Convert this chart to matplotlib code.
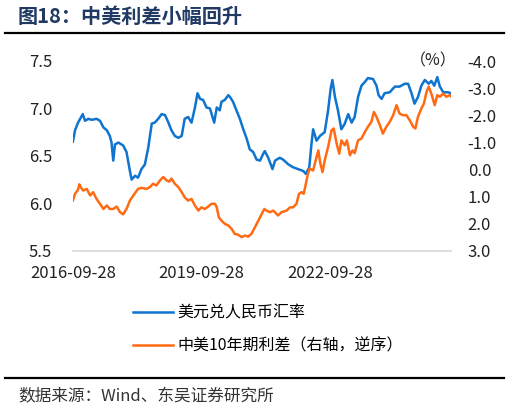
import matplotlib
matplotlib.use("Agg")
import matplotlib.pyplot as plt
import pandas as pd

plt.rcParams['font.family'] = ['Noto Sans CJK SC', 'DejaVu Sans']

# --- data (decimal year, value) ---
# USD/CNY, left axis
fx_t = [2016.74, 2016.79, 2016.86, 2016.97,
        2017.02, 2017.10, 2017.18, 2017.29, 2017.37, 2017.45, 2017.53, 2017.60, 2017.64, 2017.68, 2017.72, 2017.80, 2017.91, 2017.99,
        2018.07, 2018.11, 2018.19, 2018.26, 2018.34, 2018.42, 2018.50, 2018.58, 2018.65, 2018.73, 2018.81, 2018.89, 2018.97,
        2019.04, 2019.12, 2019.20, 2019.28, 2019.35, 2019.43, 2019.51, 2019.59, 2019.65, 2019.71, 2019.78, 2019.86, 2019.94, 2019.98,
        2020.04, 2020.10, 2020.17, 2020.21, 2020.29, 2020.37, 2020.41, 2020.48, 2020.56, 2020.64, 2020.72, 2020.80, 2020.87, 2020.95,
        2021.03, 2021.11, 2021.18, 2021.22, 2021.30, 2021.40, 2021.46, 2021.57, 2021.65, 2021.77, 2021.88,
        2022.00, 2022.12, 2022.18, 2022.26, 2022.31, 2022.35, 2022.43, 2022.51, 2022.62, 2022.70, 2022.76, 2022.80, 2022.86, 2022.93,
        2023.01, 2023.09, 2023.17, 2023.25, 2023.32, 2023.40, 2023.48, 2023.56, 2023.63, 2023.75, 2023.83, 2023.88, 2023.95,
        2024.02, 2024.14, 2024.26, 2024.37, 2024.49, 2024.57, 2024.65, 2024.72, 2024.80, 2024.88, 2024.96,
        2025.05, 2025.11, 2025.18, 2025.25, 2025.31, 2025.39, 2025.50, 2025.57]
fx_v = [6.65, 6.77, 6.85, 6.94,
        6.87, 6.89, 6.88, 6.89, 6.87, 6.80, 6.77, 6.71, 6.64, 6.45, 6.62, 6.64, 6.61, 6.54,
        6.34, 6.25, 6.29, 6.27, 6.36, 6.41, 6.59, 6.84, 6.85, 6.89, 6.94, 6.93, 6.85,
        6.77, 6.71, 6.69, 6.71, 6.89, 6.91, 6.85, 7.01, 7.16, 7.10, 7.09, 7.01, 7.00, 6.94,
        6.85, 7.01, 6.98, 7.07, 7.09, 7.14, 7.12, 7.07, 6.98, 6.89, 6.78, 6.68, 6.57, 6.54,
        6.46, 6.45, 6.52, 6.55, 6.48, 6.36, 6.45, 6.48, 6.46, 6.41, 6.38,
        6.36, 6.34, 6.31, 6.38, 6.62, 6.78, 6.66, 6.71, 6.75, 6.98, 7.21, 7.30, 7.12, 6.98,
        6.78, 6.84, 6.94, 6.85, 6.91, 7.12, 7.24, 7.28, 7.32, 7.31, 7.24, 7.14, 7.10,
        7.16, 7.17, 7.23, 7.23, 7.26, 7.26, 7.16, 7.05, 7.12, 7.24, 7.30,
        7.26, 7.29, 7.24, 7.33, 7.23, 7.17, 7.17, 7.16]

# China-US 10y spread (%), right axis, inverted
sp_t = [2016.74, 2016.79, 2016.86, 2016.89, 2016.92, 2016.98,
        2017.06, 2017.14, 2017.21, 2017.29, 2017.37, 2017.45, 2017.53, 2017.60, 2017.68, 2017.76, 2017.84, 2017.91, 2017.99,
        2018.07, 2018.15, 2018.26, 2018.34, 2018.46, 2018.54, 2018.61, 2018.69, 2018.77, 2018.85, 2018.93, 2018.99,
        2019.04, 2019.12, 2019.20, 2019.28, 2019.35, 2019.43, 2019.51, 2019.59, 2019.67, 2019.74, 2019.82, 2019.90, 2019.98,
        2020.06, 2020.10, 2020.15, 2020.21, 2020.29, 2020.37, 2020.45, 2020.52, 2020.60, 2020.68, 2020.76, 2020.83, 2020.91, 2020.99,
        2021.07, 2021.15, 2021.21, 2021.26, 2021.34, 2021.42, 2021.53, 2021.61, 2021.73, 2021.81, 2021.88, 2021.96,
        2022.02, 2022.08, 2022.13, 2022.18, 2022.23, 2022.27, 2022.35, 2022.41, 2022.47, 2022.52, 2022.57, 2022.62, 2022.70, 2022.78, 2022.83, 2022.90, 2022.96,
        2023.01, 2023.09, 2023.14, 2023.21, 2023.27, 2023.32, 2023.40, 2023.48, 2023.56, 2023.63, 2023.71, 2023.77, 2023.83, 2023.91, 2023.98,
        2024.06, 2024.14, 2024.22, 2024.30, 2024.37, 2024.45, 2024.53, 2024.61, 2024.69, 2024.74, 2024.80, 2024.88, 2024.94,
        2025.00, 2025.05, 2025.11, 2025.19, 2025.25, 2025.31, 2025.39, 2025.46, 2025.54, 2025.58]
sp_v = [1.15, 0.90, 0.75, 0.55, 0.65, 0.78,
        0.72, 0.96, 0.84, 1.09, 1.27, 1.46, 1.33, 1.46, 1.46, 1.37, 1.58, 1.66, 1.46,
        1.15, 0.96, 0.72, 0.68, 0.72, 0.65, 0.53, 0.59, 0.41, 0.28, 0.41, 0.45,
        0.34, 0.53, 0.65, 0.84, 1.03, 1.15, 1.09, 1.33, 1.52, 1.40, 1.46, 1.37, 1.27,
        1.27, 1.40, 1.77, 1.89, 2.01, 2.07, 2.20, 2.38, 2.41, 2.50, 2.44, 2.48, 2.38, 2.14,
        1.89, 1.64, 1.46, 1.52, 1.58, 1.52, 1.70, 1.58, 1.52, 1.40, 1.40, 1.27,
        0.90, 0.84, 0.90, 0.53, 0.16, -0.03, 0.04, -0.33, -0.70, -0.21, 0.10, -0.33, -0.83, -1.44, -1.51, -0.95, -0.58,
        -1.07, -0.89, -1.07, -0.52, -0.70, -0.60, -1.07, -1.14, -1.38, -1.57, -1.75, -2.12, -1.94, -1.63, -1.32,
        -1.57, -1.75, -2.00, -2.37, -2.06, -2.00, -2.00, -1.81, -1.57, -1.51, -1.94, -2.25, -2.43,
        -2.87, -3.05, -2.80, -2.37, -2.74, -2.68, -2.80, -2.68, -2.74, -2.68]

x_ticks = ['2016-09-28', '2019-09-28', '2022-09-28']
left_ticks = [5.5, 6.0, 6.5, 7.0, 7.5]
right_ticks = [-4, -3, -2, -1, 0, 1, 2, 3]

label_fx = '美元兑人民币汇率'
label_sp = '中美10年期利差（右轴，逆序）'
title = '图18：中美利差小幅回升'
source = '数据来源：Wind、东吴证券研究所'

BLUE = '#0F74CF'
ORANGE = '#FF6A13'


def to_date(y):
    yr = int(y)
    return pd.Timestamp(year=yr, month=1, day=1) + pd.Timedelta(days=(y - yr) * 365.25)


fx_d = [to_date(t) for t in fx_t]
sp_d = [to_date(t) for t in sp_t]

W, H = 510, 411
fig = plt.figure(figsize=(W / 100, H / 100), dpi=100)

# plot box in pixel terms
x0, x1, ytop, ybot = 73, 451, 61, 250.7
ax = fig.add_axes([x0 / W, 1 - ybot / H, (x1 - x0) / W, (ybot - ytop) / H])
ax2 = ax.twinx()

l1, = ax.plot(fx_d, fx_v, color=BLUE, lw=1.8, zorder=3)
l2, = ax2.plot(sp_d, sp_v, color=ORANGE, lw=1.8, zorder=2)

ax.set_xlim(pd.Timestamp(x_ticks[0]), fx_d[-1])
ax.set_ylim(5.5, 7.5)
ax2.set_ylim(3, -4)

ax.set_xticks([pd.Timestamp(t) for t in x_ticks])
ax.set_xticklabels(x_ticks)
ax.set_yticks(left_ticks)
ax.set_yticklabels([f'{v:.1f}' for v in left_ticks])
ax2.set_yticks(right_ticks)
ax2.set_yticklabels([f'{v:.1f}' for v in right_ticks])

for a in (ax, ax2):
    for s in a.spines.values():
        s.set_visible(False)
ax.spines['bottom'].set_visible(True)
ax.spines['bottom'].set_color('#D9D9D9')
ax.spines['bottom'].set_linewidth(1.2)

ax.tick_params(axis='x', length=0, pad=10, labelsize=12, colors='#222222')
ax.tick_params(axis='y', length=0, pad=15, labelsize=12, colors='#222222')
ax2.tick_params(axis='y', length=0, pad=12, labelsize=12, colors='#222222')

fig.text(457 / W, 1 - 61 / H, '（%）', ha='right', va='center', fontsize=11.5, color='#222222')

# legend below the plot
fig.legend(handles=[l1, l2], labels=[label_fx, label_sp], loc='center left',
           bbox_to_anchor=(133 / W, 1 - 329.5 / H), frameon=False, borderpad=0,
           borderaxespad=0, handlelength=2.5, handletextpad=0.3, labelspacing=1.0,
           fontsize=11.5)

# title, rules and source
fig.text(18 / W, 1 - 16 / H, title, ha='left', va='center', fontsize=14.5,
         fontweight='bold', color='#203A64')
fig.add_artist(plt.Line2D([5 / W, 504 / W], [1 - 33 / H, 1 - 33 / H], color='black', lw=1.6))
fig.add_artist(plt.Line2D([5 / W, 504 / W], [1 - 378 / H, 1 - 378 / H], color='black', lw=1.6))
fig.text(18 / W, 1 - 397 / H, source, ha='left', va='center', fontsize=12, color='#333333')

fig.savefig('out.png', dpi=100)
